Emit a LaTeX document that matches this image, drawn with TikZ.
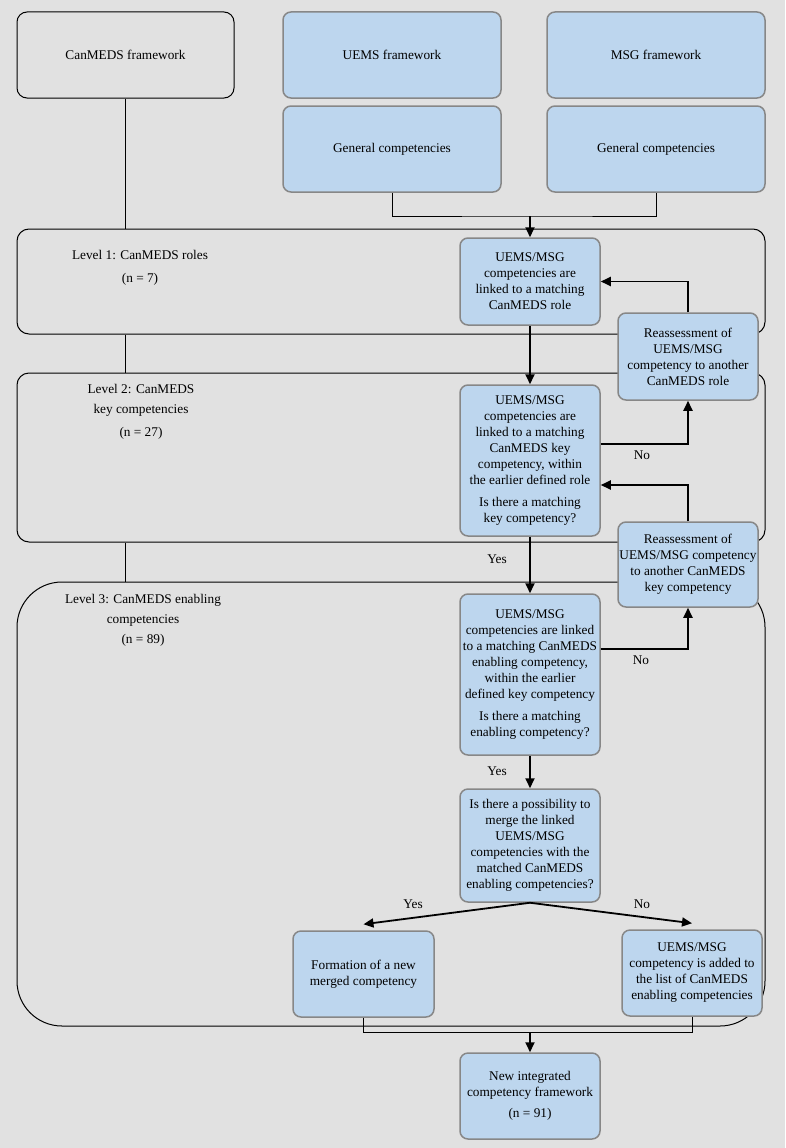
\documentclass[tikz,border=0pt]{standalone}
\usepackage{fontspec}
\setmainfont{Liberation Serif}
\usetikzlibrary{arrows.meta}
\definecolor{bggray}{RGB}{225,225,225}
\definecolor{boxblue}{RGB}{189,214,238}
\definecolor{boxedge}{RGB}{135,135,135}
\begin{document}
\begin{tikzpicture}[x=1pt,y=-1pt,
  txt/.style={font=\fontsize{13.3}{16}\selectfont,align=center},
  bluebox/.style={txt,draw=boxedge,fill=boxblue,line width=1.5pt,rounded corners=8pt,inner sep=0pt,minimum width=140pt},
  topbox/.style={bluebox,minimum width=218pt,minimum height=86pt},
  framebox/.style={txt,draw=black,line width=1pt,rounded corners=10pt,inner sep=0pt,minimum width=217pt,minimum height=86pt},
  levelbox/.style={draw=black,line width=1pt,rounded corners=12pt,inner sep=0pt,minimum width=748pt},
  plain/.style={draw,line width=1pt},
  flow/.style={draw,line width=1.8pt,-{Triangle[length=10pt,width=9pt]}}]
\fill[bggray] (0,0) rectangle (785,1148);

\node[levelbox,minimum height=105pt] (lev1) at (391,281.5) {};
\node[levelbox,minimum height=169pt] (lev2) at (391,457.5) {};
\node[levelbox,minimum height=444pt,rounded corners=45pt] (lev3) at (391,804) {};
\node[txt] (lev1txt) at (140,268) {Level 1: CanMEDS roles\\[7pt](n = 7)};
\node[txt] (lev2txt) at (141,412) {Level 2: CanMEDS\\[4pt]key competencies\\[7pt](n = 27)};
\node[txt] (lev3txt) at (143,620.5) {Level 3: CanMEDS enabling\\[4pt]competencies\\[4pt](n = 89)};

\node[framebox] (canmeds) at (125.5,55) {CanMEDS framework};
\node[topbox] (uems) at (392,55) {UEMS framework};
\node[topbox] (msg) at (656,55) {MSG framework};
\node[topbox] (uemsgc) at (392,149) {General competencies};
\node[topbox] (msggc) at (656,149) {General competencies};

\node[bluebox,minimum height=87pt] (l1) at (530,281.5) {UEMS/MSG\\competencies are\\linked to a matching\\CanMEDS role};
\node[bluebox,minimum height=151pt] (l2) at (530,460.5) {UEMS/MSG\\competencies are\\linked to a matching\\CanMEDS key\\competency, within\\the earlier defined role\\[6pt]Is there a matching\\key competency?};
\node[bluebox,minimum height=161pt] (l3) at (530,674.5) {UEMS/MSG\\competencies are linked\\to a matching CanMEDS\\enabling competency,\\within the earlier\\defined key competency\\[6pt]Is there a matching\\enabling competency?};
\node[bluebox,minimum height=113pt] (merge) at (530,845.5) {Is there a possibility to\\merge the linked\\UEMS/MSG\\competencies with the\\matched CanMEDS\\enabling competencies?};
\node[bluebox,minimum height=86pt] (final) at (530,1096) {New integrated\\competency framework\\[5pt](n = 91)};
\node[bluebox,minimum height=87pt] (re1) at (688,356.5) {Reassessment of\\UEMS/MSG\\competency to another\\CanMEDS role};
\node[bluebox,minimum height=85pt] (re2) at (688,564.5) {Reassessment of\\UEMS/MSG competency\\to another CanMEDS\\key competency};
\node[bluebox,minimum width=141pt,minimum height=86pt] (form) at (363.5,974) {Formation of a new\\merged competency};
\node[bluebox,minimum height=86pt] (added) at (692,973) {UEMS/MSG\\competency is added to\\the list of CanMEDS\\enabling competencies};

\coordinate (join1) at (530,216);
\coordinate (join2) at (530,1032);

\path[plain] (canmeds.south) -- (canmeds.south |- lev1.north);
\path[plain] (canmeds.south |- lev1.south) -- (canmeds.south |- lev2.north);
\path[plain] (canmeds.south |- lev2.south) -- (canmeds.south |- lev3.north);
\path[plain] (uemsgc.south) |- (join1) -| (msggc.south);
\path[flow] (join1) -- (l1.north);
\path[flow] (l1.south) -- (l2.north);
\path[flow] (re1.north) |- (l1.east);
\path[flow] (l2.east |- 0,444) -| (re1.south);
\path[flow] (re2.north) |- (l2.east |- 0,485);
\path[flow] (l2.south) -- (l3.north);
\path[flow] (l3.east |- 0,649) -| (re2.south);
\path[flow] (l3.south) -- (merge.north);
\path[flow] (merge.south) -- ([yshift=6pt]form.north);
\path[flow] (merge.south) -- ([yshift=6pt]added.north);
\path[plain] (form.south) |- (join2) -| (added.south);
\path[flow] (join2) -- (final.north);

\node[txt] (no1) at (642,455) {No};
\node[txt] (yes1) at (497,559) {Yes};
\node[txt] (no2) at (641,660) {No};
\node[txt] (yes2) at (497,771) {Yes};
\node[txt] (yes3) at (413,904) {Yes};
\node[txt] (no3) at (642,904) {No};
\end{tikzpicture}
\end{document}
